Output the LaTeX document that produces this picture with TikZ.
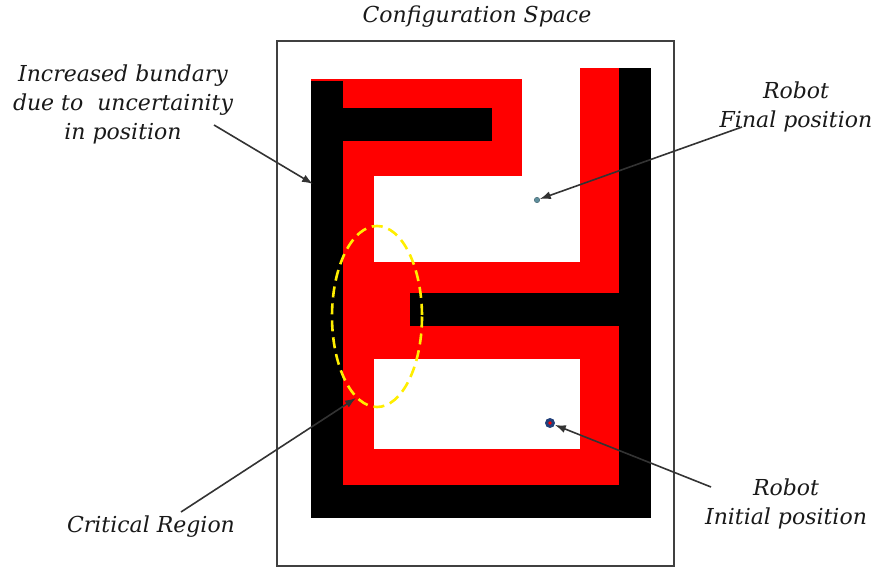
\documentclass[tikz,border=0pt]{standalone}
\usepackage{fontspec}
\setmainfont{DejaVu Serif}
\usetikzlibrary{arrows.meta}
\definecolor{wallred}{HTML}{FF0000}
\definecolor{ringyellow}{HTML}{FFEE00}
\definecolor{dotteal}{HTML}{5E8E9C}
\definecolor{dotblue}{HTML}{22407A}

\begin{document}
\begin{tikzpicture}[x=1pt,y=-1pt,
 lbl/.style={font=\fontsize{22}{29}\selectfont\itshape,text=black!90,align=center,inner sep=0pt},
 pointer/.style={draw=black!80,line width=1.6pt,-{Latex[length=11pt,width=8pt]}},
 wall/.style={fill=black},
 margin/.style={fill=wallred}]
\useasboundingbox (0,0) rectangle (876,567);
% frame of the space
\draw[black!75,line width=1.5pt] (277,41) rectangle (674,566);
% grown boundary
\fill[margin] (311,79) rectangle (522,176);
\fill[margin] (343,176) rectangle (374,485);
\fill[margin] (343,262) rectangle (619,359);
\fill[margin] (343,449) rectangle (619,485);
\fill[margin] (580,68) rectangle (619,449);
% obstacles
\fill[wall] (311,81) rectangle (343,518);
\fill[wall] (343,108) rectangle (492,141);
\fill[wall] (619,68) rectangle (651,518);
\fill[wall] (311,485) rectangle (651,518);
\fill[wall] (410,293) rectangle (619,326);
% critical region
\draw[ringyellow,line width=2.6pt,dash pattern=on 11pt off 6pt] (377,316.5) ellipse [x radius=45,y radius=90.5];
% robot
\node[circle,fill=dotteal,draw=dotteal!70!black,inner sep=0pt,minimum size=5.5pt] (goal) at (537,200) {};
\node[circle,fill=dotblue,inner sep=0pt,minimum size=10pt] (start) at (550,423) {};
\fill[wallred] (start.center) circle (1.8);
% labels
\node[lbl] (title) at (477,17) {Configuration Space};
\node[lbl] (bound) at (123,104) {Increased bundary\\due to\ \ uncertainity\\in position};
\node[lbl] (final) at (796,107) {Robot\\Final position};
\node[lbl] (initial) at (786,504) {Robot\\Initial position};
\node[lbl] (critical) at (151,527) {Critical Region};
% pointers
\coordinate (boundtail) at (214,125);
\coordinate (boundtip) at (313,184);
\coordinate (finaltail) at (742,127);
\coordinate (initialtail) at (711,487);
\coordinate (criticaltail) at (181,512);
\coordinate (criticaltip) at (356,398);
\draw[pointer] (boundtail) -- (boundtip);
\draw[pointer] (finaltail) -- (goal);
\draw[pointer] (initialtail) -- (start);
\draw[pointer] (criticaltail) -- (criticaltip);
\end{tikzpicture}
\end{document}
